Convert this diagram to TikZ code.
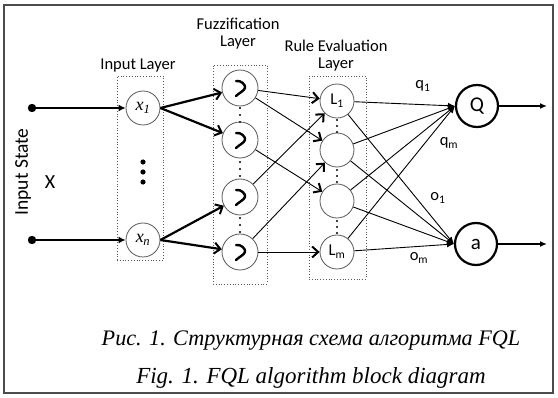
\documentclass[tikz,border=0pt]{standalone}
\usepackage{fontspec}
\setmainfont{Liberation Serif}
\newfontfamily\lblfont{Carlito}
\usetikzlibrary{arrows.meta}
\begin{document}
\begin{tikzpicture}[x=1pt,y=-1pt,
  lbl/.style={font=\lblfont\fontsize{16.5}{18}\selectfont, align=center, inner sep=0},
  neuron/.style={circle, draw=gray!70!black, line width=0.8pt, minimum size=34pt, inner sep=0, fill=white},
  outneuron/.style={circle, draw=black, line width=2.2pt, minimum size=42pt, inner sep=0, fill=white,
                    font=\lblfont\fontsize{21}{22}\selectfont},
  layerbox/.style={draw=gray!70!black, dotted, line width=0.8pt},
  inarrow/.style={line width=2.2pt, -{Latex[length=7pt,width=7pt]}},
  fanarrow/.style={line width=2.2pt, -{Straight Barb[length=6pt,width=11pt,line width=2pt]}},
  rulearrow/.style={line width=0.9pt, -{Straight Barb[length=6pt,width=11pt,line width=2pt]}},
  outlink/.style={line width=0.9pt, -{Latex[length=7pt,width=6pt]}},
  outarrow/.style={line width=1.4pt, -{Latex[length=7pt,width=6pt]}},
  captext/.style={font=\itshape\fontsize{#1}{24}\selectfont, inner sep=0},
  pics/bump/.style={code={
    \draw[line width=2.4pt, line cap=round]
      (-4,-7) .. controls (1,-8) and (6,-3) .. (5,0)
              .. controls (4,3) and (-1,5) .. (-4,8);}}
]
\useasboundingbox (0,0) rectangle (558,398);
% outer frame
\draw[gray!60!black, line width=1.8pt] (4,5) rectangle (553,393);

% layer boxes
\node[layerbox, minimum width=46pt, minimum height=184pt, inner sep=0] (inbox) at (140,168) {};
\node[layerbox, minimum width=54pt, minimum height=219pt, inner sep=0] (fzbox) at (240,174.5) {};
\node[layerbox, minimum width=57pt, minimum height=203pt, inner sep=0] (rlbox) at (337.5,177.5) {};

% layer titles
\node[lbl] (tin) at (138,66) {Input Layer};
\node[lbl] (tfz) at (238,34) {Fuzzification\\[-1pt]Layer};
\node[lbl] (trl) at (336,56) {Rule Evaluation\\[-1pt]Layer};
\node[lbl, font=\lblfont\fontsize{19.5}{20}\selectfont, rotate=90] (tstate) at (23,172) {Input State};
\node[lbl, font=\lblfont\fontsize{20}{20}\selectfont] (tx) at (50,182) {X};

% input points
\fill (32,108) circle (4.2pt);
\fill (32,240) circle (4.2pt);
\coordinate (s1) at (32,108);
\coordinate (s2) at (32,240);

% input layer
\node[neuron, font=\itshape\fontsize{18}{18}\selectfont] (x1) at (143,108) {x\textsubscript{1}};
\node[neuron, font=\itshape\fontsize{18}{18}\selectfont] (xn) at (143,240) {x\textsubscript{\kern-0.5pt n}};
\foreach \yy in {162,172,182} \fill (143,\yy) circle (2.6pt);

% fuzzification layer
\foreach \n/\yy in {1/88,2/140,3/197,4/252} {
  \node[neuron, minimum size=36pt] (f\n) at (240,\yy) {};
  \pic at (f\n) {bump};
}
\foreach \yy in {108,115,122, 162,169,176, 218,225,232} \fill (240,\yy) circle (1.1pt);

% rule evaluation layer
\node[neuron, font=\lblfont\fontsize{16.5}{18}\selectfont] (r1) at (337,101) {L\textsubscript{1}};
\node[neuron] (r2) at (337,150) {};
\node[neuron] (r3) at (337,201) {};
\node[neuron, font=\lblfont\fontsize{16.5}{18}\selectfont] (r4) at (337,252) {L\textsubscript{m}};
\foreach \yy in {120,126,132, 170,176,182, 221,227,233} \fill (337,\yy) circle (1.1pt);

% output neurons
\node[outneuron] (q) at (477,106) {Q};
\node[outneuron] (a) at (476,244) {a};
\coordinate (qend) at (547,106);
\coordinate (aend) at (547,244);

% input connections
\draw[inarrow] (s1) -- (x1);
\draw[inarrow] (s2) -- (xn);
\draw[fanarrow] (x1.east) -- (f1);
\draw[fanarrow] (x1.east) -- (f2);
\draw[fanarrow] (xn.east) -- (f3);
\draw[fanarrow] (xn.east) -- (f4);

% fuzzy sets to rules
\draw[rulearrow] (f1) -- (r1);
\draw[rulearrow] (f1) -- (r2);
\draw[rulearrow] (f2) -- (r3);
\draw[rulearrow] (f3) -- (r1);
\draw[rulearrow] (f4) -- (r2);
\draw[rulearrow] (f4) -- (r4);

% rules to outputs
\foreach \r in {r1,r2,r3,r4} {
  \draw[outlink] (\r) -- (q.west);
  \draw[outlink] (\r) -- (a.west);
}
\draw[outarrow] (q) -- (qend);
\draw[outarrow] (a) -- (aend);

% link labels
\node[lbl] (lq1) at (423,86) {q\textsubscript{1}};
\node[lbl] (lqm) at (449,143) {q\textsubscript{m}};
\node[lbl] (lo1) at (438,198) {o\textsubscript{1}};
\node[lbl] (lom) at (419,258) {o\textsubscript{m}};

% caption
\node[captext=22.2] (cap1) at (311,341) {Рис. 1. Структурная схема алгоритма FQL};
\node[captext=23] (cap2) at (311,378) {Fig. 1. FQL algorithm block diagram};
\end{tikzpicture}
\end{document}
